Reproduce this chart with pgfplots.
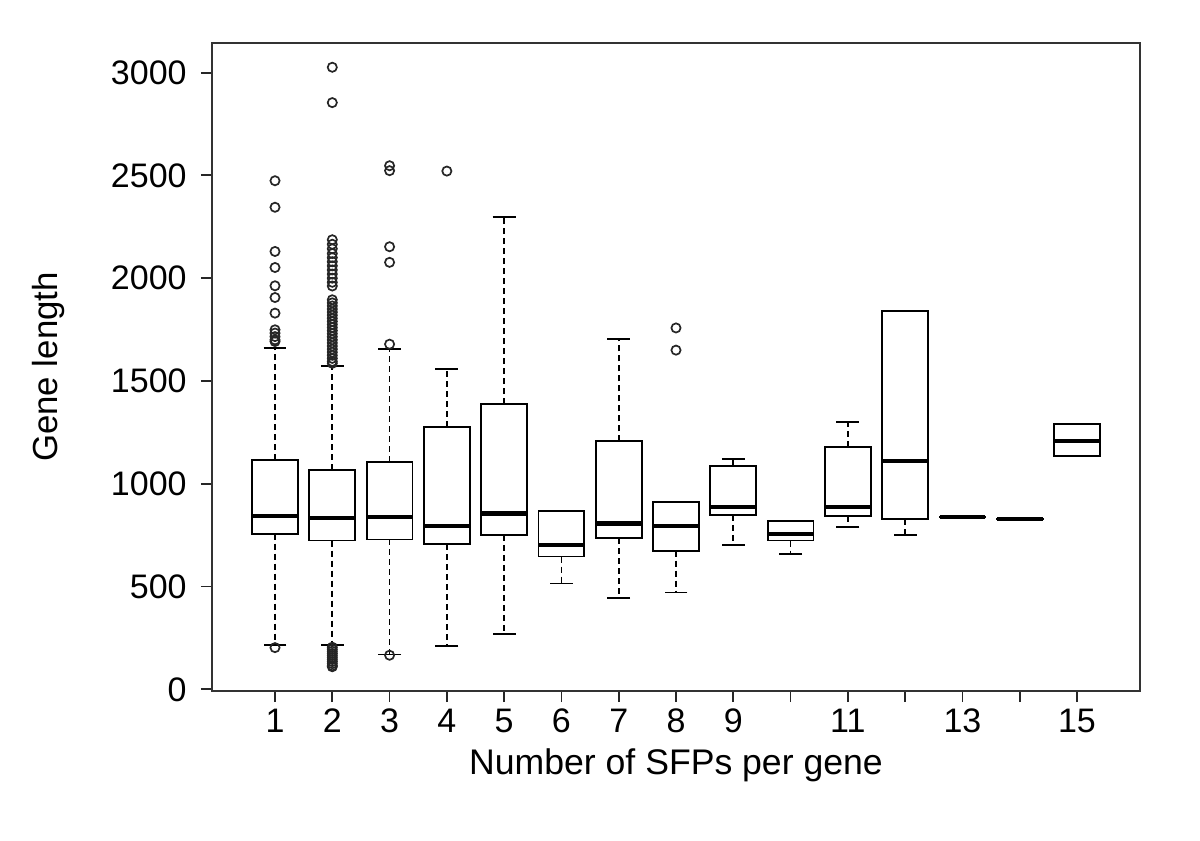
\documentclass[border=0pt]{standalone}
\usepackage{fontspec}
\setmainfont{Liberation Sans}
\usepackage{pgfplots}
\usepackage{pgfplotstable}
\pgfplotsset{compat=1.18}
\pgfplotstableread{
pos lw q1 med q3 uw
1 214 757 844 1115 1661
2 214 724 834 1067 1573
3 170 729 838 1107 1656
4 209 705 796 1278 1557
5 268 752 855 1388 2297
6 515 646 701 869 869
7 445 735 807 1206 1705
8 471 675 794 911 911
9 701 849 888 1088 1119
10 658 724 757 818 818
11 789 843 888 1179 1299
12 749 828 1112 1841 1841
13 838 838 838 838 838
14 828 828 828 828 828
15 1136 1136 1209 1292 1292
}\stats
\pgfplotstableread{
pos val
1 2474
1 2345
1 2130
1 2052
1 1963
1 1906
1 1830
1 1749
1 1733
1 1716
1 1700
1 1692
1 203
2 3026
2 2854
2 2187
2 2165
2 2143
2 2120
2 2100
2 2080
2 2060
2 2040
2 2020
2 2000
2 1980
2 1962
2 1895
2 1880
2 1865
2 1850
2 1835
2 1820
2 1805
2 1790
2 1775
2 1760
2 1745
2 1730
2 1715
2 1700
2 1685
2 1670
2 1655
2 1640
2 1625
2 1610
2 1595
2 1586
2 205
2 195
2 185
2 175
2 165
2 155
2 145
2 135
2 125
2 115
2 110
3 2547
3 2523
3 2153
3 2077
3 1679
3 166
4 2521
8 1758
8 1650
}\outl
\newcommand{\lab}{\fontsize{17}{20}\selectfont}
\begin{document}
\begin{tikzpicture}
\begin{axis}[
  scale only axis, width=464pt, height=324pt,
  xmin=-0.1, xmax=16.1, ymin=-8, ymax=3144,
  xtick={1,2,3,4,5,6,7,8,9,10,11,12,13,14,15},
  xticklabels={1,2,3,4,5,6,7,8,9,,11,,13,,15},
  ytick={0,500,1000,1500,2000,2500,3000},
  yticklabels={0,500,1000,1500,2000,2500,3000},
  tick align=outside, major tick length=5.5pt,
  xtick pos=left, ytick pos=left,
  tick style={black!85, line width=0.9pt},
  axis line style={black!80, line width=1pt},
  ticklabel style={font=\lab},
  xticklabel style={inner xsep=0pt, inner ysep=3pt, text height=12.2pt, text depth=0pt},
  yticklabel style={inner xsep=7pt, inner ysep=0pt},
  xlabel={Number of SFPs per gene},
  ylabel={Gene length},
  every axis x label/.style={at={(axis description cs:0.5,-0.1296)}, anchor=base, font=\fontsize{17.8}{20}\selectfont},
  every axis y label/.style={at={(axis description cs:-0.1767,0.5)}, rotate=90, anchor=center, font=\fontsize{17.4}{20}\selectfont},
  clip=false,
  side/.style={draw=none, mark=none,
    error bars/.cd, y dir=plus, y explicit, error mark=none,
    error bar style={draw=black, solid, line width=0.95pt, line cap=rect}},
  whisk/.style={draw=none, mark=none,
    error bars/.cd, y dir=#1, y explicit, error mark=|,
    error bar style={draw=black, line width=0.9pt, dash pattern=on 3pt off 2pt},
    error mark options={draw=black, solid, line width=0.9pt, mark size=5.73pt}},
  edge/.style={only marks, mark=-, mark size=11.46pt, mark options={draw=black, solid, line width=0.95pt, line cap=rect}},
]
% whiskers
\addplot[whisk=plus] table[x=pos, y=q3, y error expr=\thisrow{uw}-\thisrow{q3}] {\stats};
\addplot[whisk=minus] table[x=pos, y=q1, y error expr=\thisrow{q1}-\thisrow{lw}] {\stats};
% box sides
\addplot[side] table[x expr=\thisrow{pos}-0.4, y=q1, y error expr=\thisrow{q3}-\thisrow{q1}] {\stats};
\addplot[side] table[x expr=\thisrow{pos}+0.4, y=q1, y error expr=\thisrow{q3}-\thisrow{q1}] {\stats};
% box top and bottom
\addplot[edge] table[x=pos, y=q1] {\stats};
\addplot[edge] table[x=pos, y=q3] {\stats};
% medians
\addplot[only marks, mark=-, mark size=11.46pt, mark options={draw=black, line width=2.2pt}] table[x=pos, y=med] {\stats};
% outliers
\addplot[only marks, mark=o, mark size=2.3pt, mark options={draw=black!85, line width=0.85pt}] table[x=pos, y=val] {\outl};
\end{axis}
\pgfresetboundingbox
\path[use as bounding box] ([xshift=-106pt,yshift=-75pt]current axis.south west) rectangle ([xshift=30pt,yshift=21.5pt]current axis.north east);
\end{tikzpicture}
\end{document}
